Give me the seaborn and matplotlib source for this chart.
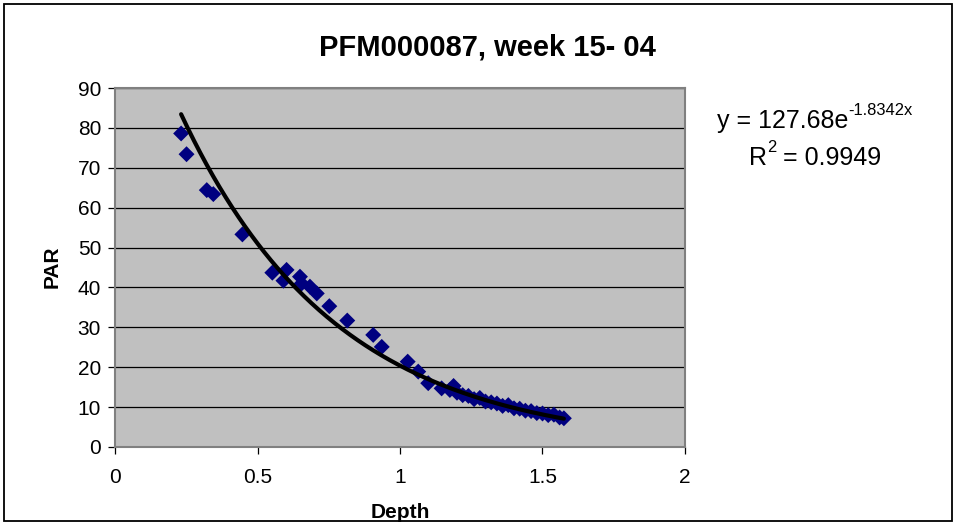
import numpy as np
import matplotlib
matplotlib.use("Agg")
import matplotlib.pyplot as plt
from matplotlib.patches import Rectangle
import seaborn as sns

# Light profile: depth (m) vs PAR
depth = [0.232, 0.251, 0.322, 0.345, 0.447, 0.552, 0.591, 0.602, 0.649, 0.655,
         0.684, 0.708, 0.752, 0.815, 0.906, 0.936, 1.027, 1.064, 1.099, 1.146,
         1.175, 1.188, 1.200, 1.220, 1.240, 1.260, 1.280, 1.300, 1.320, 1.340,
         1.360, 1.380, 1.400, 1.420, 1.440, 1.460, 1.480, 1.500, 1.520, 1.540,
         1.560, 1.575]
par = [78.6, 73.4, 64.4, 63.4, 53.3, 43.7, 41.7, 44.4, 42.7, 41.0,
       40.2, 38.5, 35.3, 31.7, 28.1, 25.1, 21.4, 18.9, 16.0, 14.7,
       14.3, 15.3, 13.6, 13.0, 12.8, 12.0, 12.3, 11.4, 11.2, 10.9,
       10.3, 10.5, 9.7, 9.6, 9.1, 9.0, 8.5, 8.4, 8.0, 8.1,
       7.4, 7.2]

# Exponential trendline coefficients
fit_a = 127.68
fit_b = -1.8342
fit_r2 = 0.9949

x_ticks = [0, 0.5, 1, 1.5, 2]
x_tick_labels = ["0", "0.5", "1", "1.5", "2"]
y_ticks = list(range(0, 91, 10))

sns.set_theme(style="white")
plt.rcParams["font.family"] = ["Liberation Sans", "DejaVu Sans"]
plt.rcParams["text.color"] = "black"

W, H = 956, 524
fig = plt.figure(figsize=(W / 100, H / 100), dpi=100)
fig.patch.set_facecolor("white")

left, right, top, bottom = 115, 685, 88, 447
ax = fig.add_axes([left / W, 1 - bottom / H, (right - left) / W, (bottom - top) / H])
ax.set_facecolor("#C0C0C0")

sns.scatterplot(x=depth, y=par, marker="D", color="#000080", s=66,
                edgecolor="none", linewidth=0, ax=ax, zorder=3)

xs = np.linspace(min(depth), max(depth), 300)
ys = fit_a * np.exp(fit_b * xs)
sns.lineplot(x=xs, y=ys, color="black", linewidth=3.0, ax=ax, zorder=4)

ax.set_xlim(0, 2)
ax.set_ylim(0, 90)
ax.set_xticks(x_ticks)
ax.set_xticklabels(x_tick_labels)
ax.set_yticks(y_ticks)
ax.yaxis.grid(True, color="black", linewidth=0.9)
ax.xaxis.grid(False)
ax.set_axisbelow(True)

for sp in ax.spines.values():
    sp.set_color("#808080")
    sp.set_linewidth(1.5)

ax.tick_params(axis="both", direction="out", length=5, width=0.9,
               color="black", labelsize=15, labelcolor="black", pad=5,
               left=True, bottom=True)
ax.tick_params(axis="x", pad=10)
ax.set_xlabel("")
ax.set_ylabel("")

fig.text(487 / W, 1 - 47 / H, "PFM000087, week 15- 04", ha="center", va="center",
         fontsize=21, fontweight="bold")
fig.text(400 / W, 1 - 512 / H, "Depth", ha="center", va="center",
         fontsize=15, fontweight="bold")
fig.text(52 / W, 1 - 267 / H, "PAR", ha="center", va="center", rotation=90,
         fontsize=15, fontweight="bold")

renderer = fig.canvas.get_renderer()


def centred_run(cx, cy, parts, size):
    """Lay out (text, is_superscript) pieces on one line, centred on (cx, cy) in pixels."""
    items = []
    for s, is_sup in parts:
        if is_sup:
            t = fig.text(0, 1 - (cy - size * 0.6) / H, s, ha="left", va="center",
                         fontsize=size * 0.66)
        else:
            t = fig.text(0, 1 - cy / H, s, ha="left", va="center", fontsize=size)
        items.append((t, t.get_window_extent(renderer).width))
    total = sum(w for _, w in items)
    x = cx - total / 2
    for t, w in items:
        t.set_x(x / W)
        x += w


eq_size = 18
centred_run(815, 121, [("y = %.2fe" % fit_a, False), ("%.4fx" % fit_b, True)], eq_size)
centred_run(815, 158, [("R", False), ("2", True), (" = %.4f" % fit_r2, False)], eq_size)

fig.patches.append(Rectangle((4 / W, 3 / H), (W - 8) / W, (H - 7) / H,
                             transform=fig.transFigure, fill=False,
                             edgecolor="black", linewidth=1.3))

fig.savefig("out.png", dpi=100)
